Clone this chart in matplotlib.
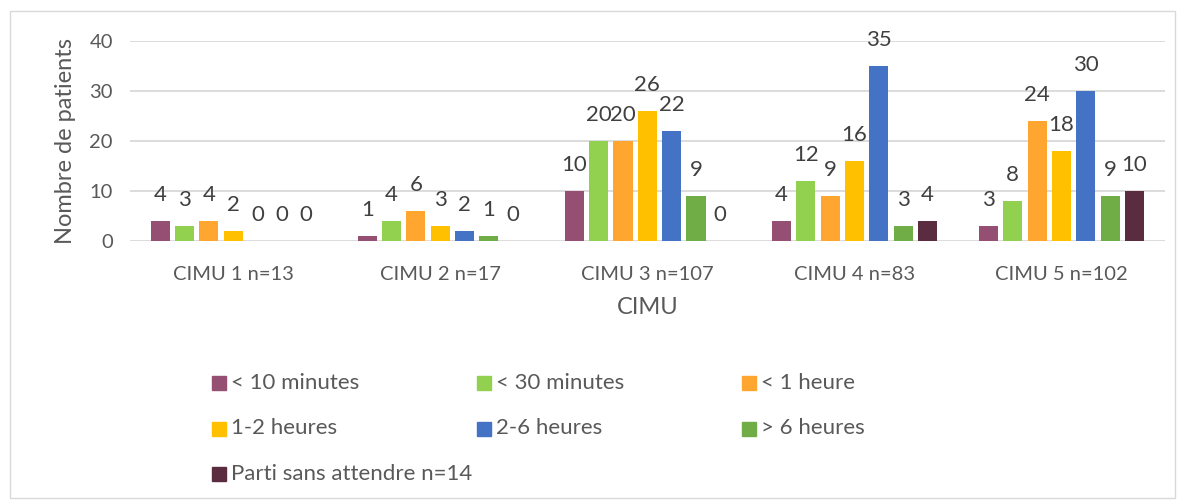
import numpy as np
import matplotlib.pyplot as plt
from matplotlib.patches import Rectangle

plt.rcParams['font.family'] = ['Lato', 'DejaVu Sans']

# Data
categories = ['CIMU 1 n=13', 'CIMU 2 n=17', 'CIMU 3 n=107', 'CIMU 4 n=83', 'CIMU 5 n=102']
series_names = ['< 10 minutes', '< 30 minutes', '< 1 heure', '1-2 heures',
                '2-6 heures', '> 6 heures', 'Parti sans attendre n=14']
lt_10min = [4, 1, 10, 4, 3]
lt_30min = [3, 4, 20, 12, 8]
lt_1h = [4, 6, 20, 9, 24]
h1_2 = [2, 3, 26, 16, 18]
h2_6 = [0, 2, 22, 35, 30]
gt_6h = [0, 1, 9, 3, 9]
parti = [0, 0, 0, 4, 10]
series_values = [lt_10min, lt_30min, lt_1h, h1_2, h2_6, gt_6h, parti]
colors = ['#954F72', '#92D050', '#FFA630', '#FFC000', '#4472C4', '#70AD47', '#5B2C40']

W, H = 1178, 501
fig = plt.figure(figsize=(W / 100, H / 100), dpi=100)
ax = fig.add_axes([0.110, 0.519, 0.879, 0.399])

# outer chart frame
fig.patches.append(Rectangle((10 / W, 3 / H), 1165 / W, 487 / H,
                             transform=fig.transFigure, fill=False,
                             edgecolor='#D9D9D9', linewidth=1.0))

x = np.arange(len(categories))
pitch = 0.1175
width = 0.092
for i, (name, vals, col) in enumerate(zip(series_names, series_values, colors)):
    offs = (i - 3) * pitch
    ax.bar(x + offs, vals, width, color=col, label=name, zorder=3)
    for xi, v in zip(x + offs, vals):
        ax.text(xi, v + 5.2, str(v), ha='center', va='center',
                fontsize=16, color='#404040')

ax.set_ylim(0, 40)
ax.set_xlim(-0.5, len(categories) - 0.5)
ax.set_yticks([0, 10, 20, 30, 40])
ax.set_xticks(x)
ax.set_xticklabels(categories)
ax.tick_params(axis='both', length=0, labelsize=14.5, colors='#595959')
ax.tick_params(axis='x', pad=18)
ax.tick_params(axis='y', pad=12)
ax.yaxis.grid(True, color='#D9D9D9', linewidth=1.3, zorder=0)
for s in ax.spines.values():
    s.set_visible(False)

ax.set_ylabel('Nombre de patients', fontsize=17, color='#595959', labelpad=10)
ax.set_xlabel('CIMU', fontsize=17, color='#595959', labelpad=10)

# legend: fixed-width columns, filled row by row like the original
for k, (name, col) in enumerate(zip(series_names, colors)):
    row, c = divmod(k, 3)
    lx = 212 + 265 * c
    ly = 383 + 45.5 * row
    fig.patches.append(Rectangle((lx / W, 1 - (ly + 7) / H), 14 / W, 14 / H,
                                 transform=fig.transFigure, color=col))
    fig.text((lx + 19) / W, 1 - ly / H, name, ha='left', va='center',
             fontsize=16, color='#595959')

fig.savefig('out.png', dpi=100)
